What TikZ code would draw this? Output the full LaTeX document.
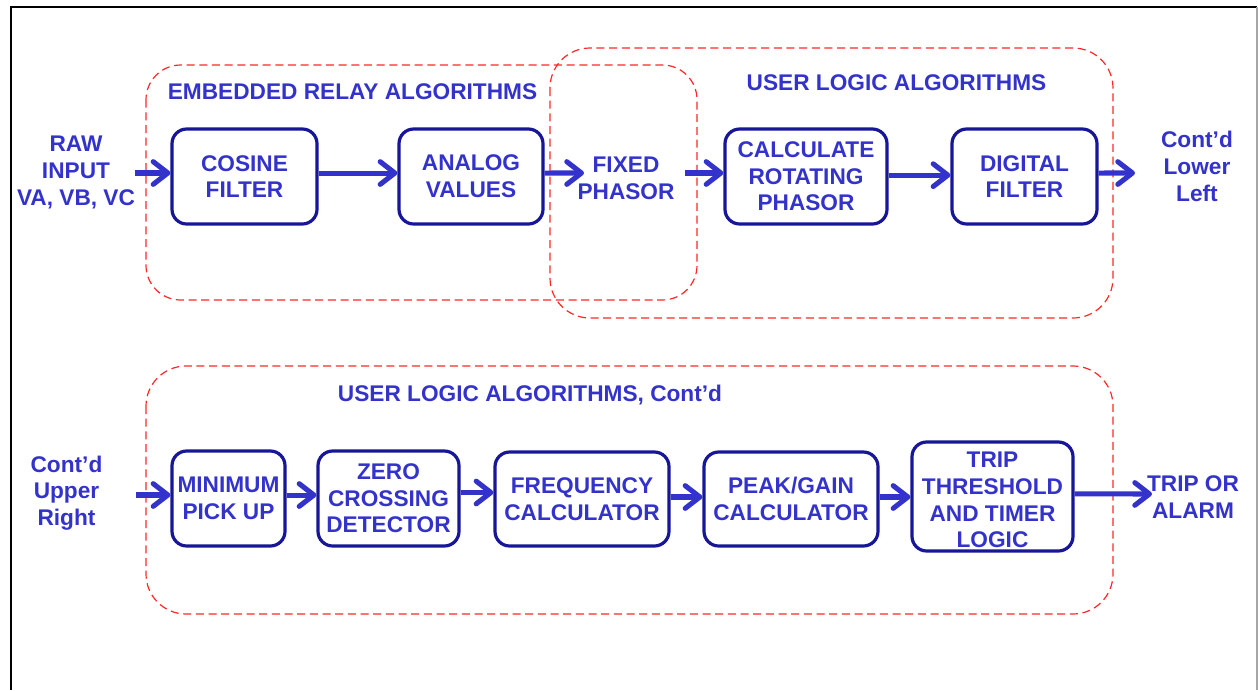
\documentclass[tikz,border=0pt]{standalone}
\usepackage{fontspec}
\setmainfont{Liberation Sans}
\usetikzlibrary{arrows.meta}
\definecolor{txtblue}{RGB}{51,51,204}
\definecolor{boxblue}{RGB}{22,22,150}
\definecolor{dashred}{RGB}{255,40,40}
\begin{document}
\begin{tikzpicture}[x=0.75pt,y=-0.75pt,
  lbl/.style={text=txtblue,font=\fontsize{17}{20}\selectfont\bfseries,align=center,inner sep=0pt},
  blk/.style={lbl,draw=boxblue,line width=2.4pt,rounded corners=11pt},
  grp/.style={draw=dashred,dashed,dash pattern=on 6pt off 3.5pt,line width=0.9pt},
  flow/.style={draw=txtblue,line width=3.8pt,-{Straight Barb[length=11pt,width=17pt,round]}}
]
\useasboundingbox (0,0) rectangle (1258,690);
% frame
\draw[black,line width=2pt] (11,690) -- (11,7) -- (1257,7);
\draw[gray!70,line width=0.8pt] (1257,7) -- (1257,690);
% groups
\draw[grp,rounded corners=26pt] (146,65) rectangle (697,300);
\draw[grp,rounded corners=30pt] (550,48) rectangle (1113,318);
\draw[grp,rounded corners=30pt] (146,366) rectangle (1113,614);
% titles
\node[lbl] (t1) at (352.5,92) {EMBEDDED RELAY ALGORITHMS};
\node[lbl] (t2) at (896.5,83) {USER LOGIC ALGORITHMS};
\node[lbl] (t3) at (530,395) {USER LOGIC ALGORITHMS, Cont’d};
% top row
\node[lbl] (raw) at (76,172.5) {RAW\\INPUT\\VA, VB, VC};
\node[blk,minimum width=108.75pt,minimum height=71.25pt] (cos) at (244.5,176.5) {COSINE\\FILTER};
\node[blk,minimum width=108pt,minimum height=71.25pt] (ana) at (471,176.5) {ANALOG\\VALUES};
\node[lbl] (fix) at (626,178) {FIXED\\PHASOR};
\node[blk,minimum width=121.5pt,minimum height=71.25pt] (calc) at (806,176.5) {CALCULATE\\ROTATING\\PHASOR};
\node[blk,minimum width=108.75pt,minimum height=71.25pt] (dig) at (1024.5,176.5) {DIGITAL\\FILTER};
\node[lbl] (cll) at (1197,166.5) {Cont’d\\Lower\\Left};
\coordinate (rawe) at (135,173);
\coordinate (fixin) at (584,173);
\coordinate (fixout) at (685,173);
\coordinate (digout) at (1135,173);
\draw[flow] (rawe) -- (rawe -| cos.west);
\draw[flow] ([yshift=2.6pt]cos.east) -- ([yshift=2.6pt]ana.west);
\draw[flow] ([yshift=2.6pt]ana.east) -- (fixin);
\draw[flow] (fixout) -- (fixout -| calc.west);
\draw[flow] ([yshift=1pt]calc.east) -- ([yshift=1pt]dig.west);
\draw[flow] ([yshift=2.6pt]dig.east) -- (digout);
% bottom row
\node[lbl] (cur) at (66.5,493) {Cont’d\\Upper\\Right};
\node[blk,minimum width=84.75pt,minimum height=71.25pt] (minp) at (228.5,498.5) {MINIMUM\\PICK UP};
\node[blk,minimum width=105.75pt,minimum height=71.25pt] (zero) at (388.5,498.5) {ZERO\\CROSSING\\DETECTOR};
\node[blk,minimum width=130.5pt,minimum height=70.5pt] (freq) at (582,499) {FREQUENCY\\CALCULATOR};
\node[blk,minimum width=130.5pt,minimum height=70.5pt] (peak) at (791,499) {PEAK/GAIN\\CALCULATOR};
\node[blk,minimum width=120.75pt,minimum height=81.75pt] (trip) at (992.5,496.5) {};
\node[lbl] (triptxt) at (992.5,500) {TRIP\\THRESHOLD\\AND TIMER\\LOGIC};
\node[lbl] (alarm) at (1193,497) {TRIP OR\\ALARM};
\coordinate (curin) at (136,495);
\coordinate (tripout) at (1152,494);
\draw[flow] (curin) -- (curin -| minp.west);
\draw[flow] ([yshift=2.6pt]minp.east) -- ([yshift=2.6pt]zero.west);
\draw[flow] ([yshift=4.5pt]zero.east) -- ([yshift=4.5pt]zero.east -| freq.west);
\draw[flow] ([yshift=1.5pt]freq.east) -- ([yshift=1.5pt]peak.west);
\draw[flow] ([yshift=1.5pt]peak.east) -- ([yshift=1.5pt]peak.east -| trip.west);
\draw[flow] ([yshift=2pt]trip.east) -- (tripout);
\end{tikzpicture}
\end{document}
